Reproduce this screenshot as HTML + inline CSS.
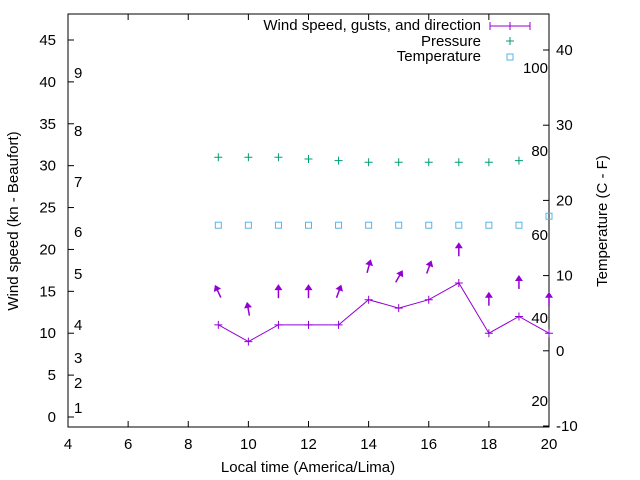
<!DOCTYPE html>
<html><head><meta charset="utf-8"><style>
body{margin:0;background:#fff}
svg{display:block;font-family:"Liberation Sans",sans-serif;font-size:15px}
</style></head><body>
<svg id="c" width="640" height="480" xmlns="http://www.w3.org/2000/svg"></svg>
<script>
const hours=[9,10,11,12,13,14,15,16,17,18,19,20];
const windSpeed=[11,9,11,11,11,14,13,14,16,10,12,10];
const gusts=[14.9,12.8,14.9,14.9,14.9,17.9,16.7,17.8,19.9,14,16,14];
const directions=[-25,-10,0,0,20,15,30,20,0,0,0,0];
const pressure=[31,31,31,30.8,30.6,30.4,30.4,30.4,30.4,30.4,30.6];
const temperatureC=[16.7,16.7,16.7,16.7,16.7,16.7,16.7,16.7,16.7,16.7,16.7,17.9];
const xTicks=[4,6,8,10,12,14,16,18,20];
const yTicks=[0,5,10,15,20,25,30,35,40,45];
const y2Ticks=[-10,0,10,20,30,40];
const beaufort=[[1,408],[2,383],[3,358],[4,325],[5,274],[6,232],[7,182],[8,131],[9,73]];
const fahr=[[20,400],[40,317],[60,234],[80,150],[100,67]];
const L=68,R=549,T=14,B=427;
const X=v=>L+(v-4)*(R-L)/16;
const Y=v=>417-v*8.378;
const Y2=v=>350.8-v*7.52;
const svg=document.getElementById('c');const NS='http://www.w3.org/2000/svg';
function mk(t,a,txt){const e=document.createElementNS(NS,t);for(const k in a)e.setAttribute(k,a[k]);if(txt!==undefined)e.textContent=txt;svg.appendChild(e);return e;}
let e;
e=mk('rect',{x:L,y:T,width:R-L,height:B-T,fill:'none',stroke:'#000'});


xTicks.forEach(v=>{mk('line',{x1:X(v),x2:X(v),y1:B,y2:B-6,stroke:'#000'});mk('line',{x1:X(v),x2:X(v),y1:T,y2:T+6,stroke:'#000'});
e=mk('text',{x:X(v),y:B+22,'text-anchor':'middle'},v);

});
yTicks.forEach(v=>{mk('line',{x1:L,x2:L+6,y1:Y(v),y2:Y(v),stroke:'#000'});
e=mk('text',{x:L-12,y:Y(v)+5,'text-anchor':'end'},v);

});
y2Ticks.forEach(v=>{mk('line',{x1:R,x2:R-6,y1:Y2(v),y2:Y2(v),stroke:'#000'});
e=mk('text',{x:R+7,y:Y2(v)+5},v);

});
beaufort.forEach(b=>{e=mk('text',{x:74,y:b[1]+5},b[0]);

});
fahr.forEach(f=>{e=mk('text',{x:548,y:f[1]+6,'text-anchor':'end'},f[0]);

});
e=mk('text',{x:308,y:472,'text-anchor':'middle'},'Local time (America/Lima)');


e=mk('text',{x:18,y:221,'text-anchor':'middle',transform:'rotate(-90 18 221)'},'Wind speed (kn - Beaufort)');


e=mk('text',{x:607,y:221,'text-anchor':'middle',transform:'rotate(-90 607 221)'},'Temperature (C - F)');


const col='#9400d3';
e=mk('polyline',{points:hours.map((h,i)=>X(h)+','+Y(windSpeed[i])).join(' '),fill:'none',stroke:col});


hours.forEach((h,i)=>{const x=X(h),y=Y(windSpeed[i]);
e=mk('path',{d:`M${x-4} ${y}h8M${x} ${y-4}v8`,stroke:col});


const gy=Y(gusts[i]),a=directions[i]*Math.PI/180,dx=Math.sin(a)*6,dy=-Math.cos(a)*6;
const hx=x+dx,hy=gy+dy;
const g=document.createElementNS(NS,'g');svg.appendChild(g);


const l=document.createElementNS(NS,'line');l.setAttribute('x1',x-dx);l.setAttribute('y1',gy-dy);l.setAttribute('x2',hx);l.setAttribute('y2',hy);l.setAttribute('stroke',col);l.setAttribute('stroke-width','1.5');g.appendChild(l);
const p=document.createElementNS(NS,'polygon');
const ux=Math.sin(a),uy=-Math.cos(a),px=-uy,py=ux;
p.setAttribute('points',`${hx+ux*2},${hy+uy*2} ${hx-ux*4+px*4},${hy-uy*4+py*4} ${hx-ux*4-px*4},${hy-uy*4-py*4}`);p.setAttribute('fill',col);g.appendChild(p);});
pressure.forEach((v,i)=>{const x=X(hours[i]),y=Y(v);
e=mk('path',{d:`M${x-4} ${y}h8M${x} ${y-4}v8`,stroke:'#009e73'});

});
temperatureC.forEach((v,i)=>{const x=X(hours[i]),y=Y2(v);
e=mk('rect',{x:x-3,y:y-3,width:6,height:6,fill:'none',stroke:'#56b4e9'});

});
e=mk('text',{x:481,y:30,'text-anchor':'end'},'Wind speed, gusts, and direction');


mk('path',{d:'M490 26h40M490 22v8M510 22v8M530 22v8',stroke:col});
e=mk('text',{x:481,y:46,'text-anchor':'end'},'Pressure');


mk('path',{d:'M506 41h8M510 37v8',stroke:'#009e73'});
e=mk('text',{x:481,y:61,'text-anchor':'end'},'Temperature');


mk('rect',{x:507,y:54,width:6,height:6,fill:'none',stroke:'#56b4e9'});
</script>
</body></html>
